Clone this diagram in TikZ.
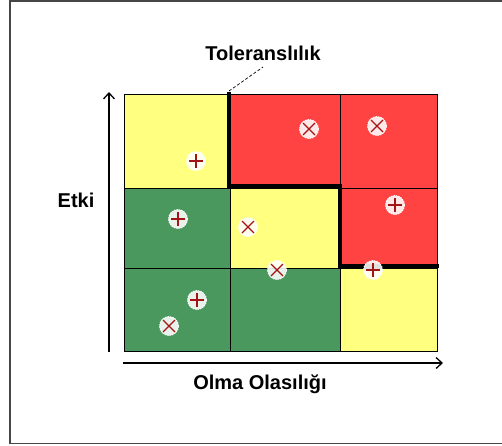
\documentclass[tikz,border=0pt]{standalone}
\usepackage{fontspec}
\setmainfont{Liberation Sans}
\usetikzlibrary{arrows.meta}
\definecolor{cellred}{RGB}{255,66,66}
\definecolor{cellyel}{RGB}{255,255,128}
\definecolor{cellgrn}{RGB}{74,152,93}
\definecolor{markred}{RGB}{165,20,20}
\definecolor{framegray}{RGB}{70,70,70}
\begin{document}
\begin{tikzpicture}[x=1pt,y=-1pt,
  lbl/.style={font=\bfseries\fontsize{20}{24}\selectfont, inner sep=0pt},
  cell/.style={draw=black, line width=0.9pt},
  axis/.style={line width=2pt, -{Straight Barb[length=6pt,width=11pt,line width=1.3pt]}},
  tolline/.style={line width=4pt, line cap=rect, line join=miter},
  mk/.style={circle, minimum size=19pt, inner sep=0pt, fill=white, fill opacity=0.88,
             draw=white, dash pattern=on 1.5pt off 1pt, line width=0.8pt},
  plusmk/.style={mk, path picture={\draw[markred, solid, line width=1.2pt, draw opacity=1]
      (path picture bounding box.center) +(-7,0) -- +(7,0) +(0,-7) -- +(0,7);}},
  crossmk/.style={mk, path picture={\draw[markred, solid, line width=1.1pt, draw opacity=1]
      (path picture bounding box.center) +(-6,-6) -- +(6,6) +(-6,6) -- +(6,-6);}}
]
\useasboundingbox (0,0) rectangle (502,445);
\fill[white] (0,0) rectangle (502,445);
% outer frame (open on the right)
\draw[framegray, line width=1.5pt] (502,1) -- (10,1) -- (10,443.5) -- (502,443.5);

% risk matrix cells
\fill[cellyel] (124,94) rectangle (230,188);
\fill[cellred] (230,94) rectangle (340,188);
\fill[cellred] (340,94) rectangle (437,188);
\fill[cellgrn] (124,188) rectangle (230,268);
\fill[cellyel] (230,188) rectangle (340,268);
\fill[cellred] (340,188) rectangle (437,268);
\fill[cellgrn] (124,268) rectangle (230,351);
\fill[cellgrn] (230,268) rectangle (340,351);
\fill[cellyel] (340,268) rectangle (437,351);
\draw[cell] (124,94) rectangle (437,351);
\draw[cell] (230,94) -- (230,351) (340,94) -- (340,351)
            (124,188) -- (437,188) (124,268) -- (437,268);

% tolerance boundary
\draw[tolline] (229,94) -- (229,186) -- (340,186) -- (340,266) -- (437,266);

% axes
\draw[axis] (109,352) -- (109,92);
\draw[axis] (123,363) -- (443,363);

% labels
\node[lbl] (tol) at (263,53) {Toleranslılık};
\node[lbl] (etki) at (76,200) {Etki};
\node[lbl] (olas) at (260,384) {Olma Olasılığı};
\coordinate (tolfoot) at (229,91);
\draw[line width=0.7pt, densely dashed] (tolfoot) -- (263,67);

% risk markers
\node[plusmk]  (m1)  at (196,161) {};
\node[crossmk] (m2)  at (309,129) {};
\node[crossmk] (m3)  at (377,126) {};
\node[plusmk]  (m4)  at (178,219) {};
\node[crossmk] (m5)  at (248,227) {};
\node[plusmk]  (m6)  at (395,205) {};
\node[crossmk] (m7)  at (277,270) {};
\node[plusmk]  (m8)  at (373,270) {};
\node[plusmk]  (m9)  at (197,300) {};
\node[crossmk] (m10) at (169,326) {};
\end{tikzpicture}
\end{document}
